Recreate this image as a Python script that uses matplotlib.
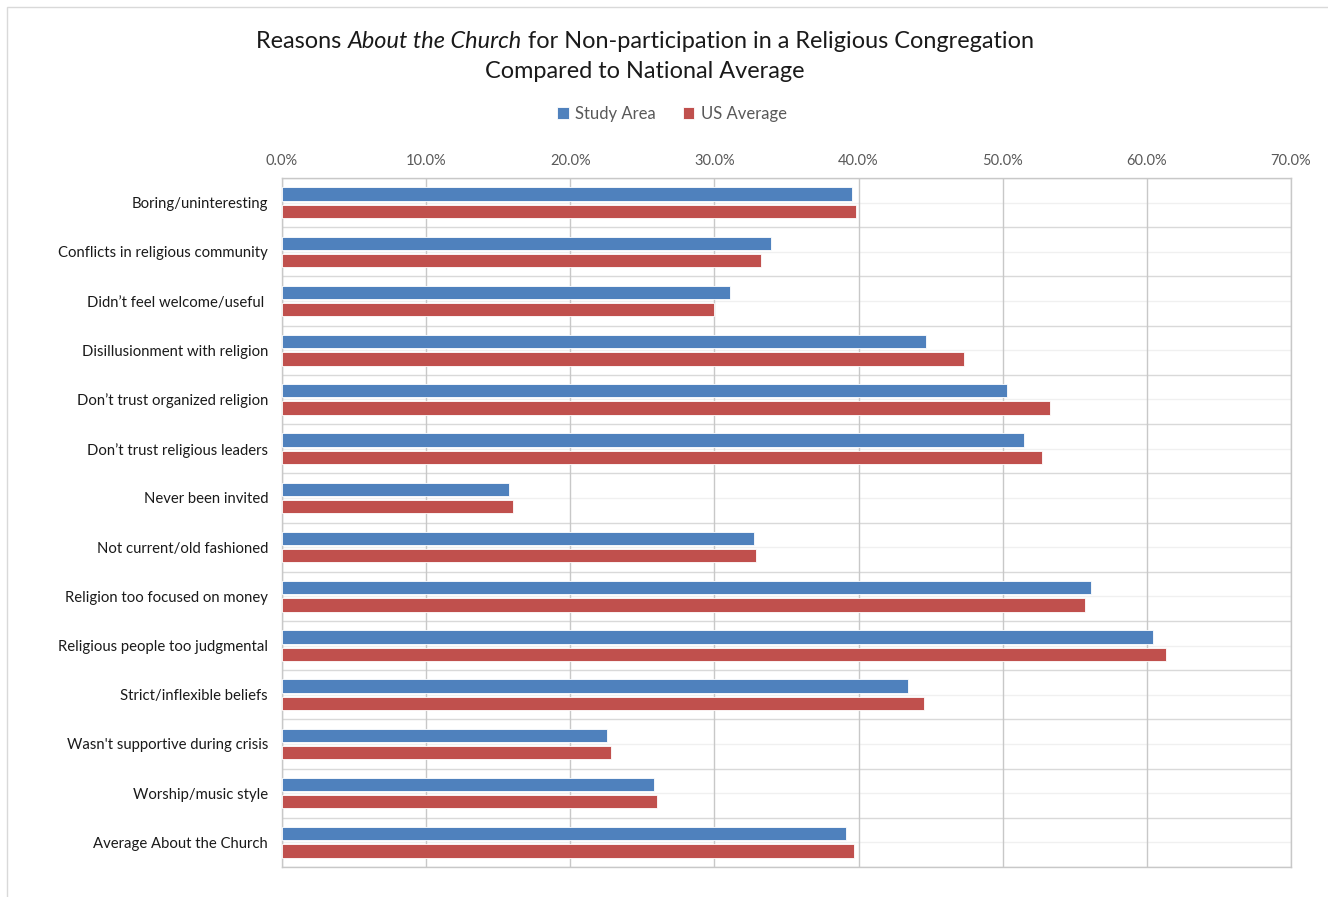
import numpy as np
import matplotlib
matplotlib.use('Agg')
import matplotlib.pyplot as plt
from matplotlib.ticker import PercentFormatter, MultipleLocator
from matplotlib.patches import Rectangle

plt.rcParams['font.family'] = ['Lato', 'DejaVu Sans']

# Data (percent)
categories = [
    'Boring/uninteresting',
    'Conflicts in religious community',
    'Didn\u2019t feel welcome/useful ',
    'Disillusionment with religion',
    'Don\u2019t trust organized religion',
    'Don\u2019t trust religious leaders',
    'Never been invited',
    'Not current/old fashioned',
    'Religion too focused on money',
    'Religious people too judgmental',
    'Strict/inflexible beliefs',
    "Wasn't supportive during crisis",
    'Worship/music style',
    'Average About the Church',
]
study_area = [39.55, 33.9, 31.1, 44.7, 50.3, 51.5, 15.75, 32.75, 56.1, 60.4, 43.4, 22.55, 25.8, 39.1]
us_average = [39.8, 33.2, 30.0, 47.3, 53.3, 52.7, 16.0, 32.9, 55.7, 61.3, 44.55, 22.8, 26.0, 39.7]

blue = '#4f81bd'
red = '#c0504d'

fig = plt.figure(figsize=(13.28, 8.97), dpi=100)
ax = fig.add_axes([282/1328, 1 - 867/897, (1291-282)/1328, (867-178)/897])

y = np.arange(len(categories))
h = 0.27
ax.barh(y - 0.175, study_area, height=h, color=blue, edgecolor='white', linewidth=0.6, zorder=3, label='Study Area')
ax.barh(y + 0.175, us_average, height=h, color=red, edgecolor='white', linewidth=0.6, zorder=3, label='US Average')

ax.set_xlim(0, 70)
ax.set_ylim(len(categories) - 0.5, -0.5)
ax.xaxis.set_major_locator(MultipleLocator(10))
ax.xaxis.set_major_formatter(PercentFormatter(decimals=1))
ax.xaxis.tick_top()
ax.tick_params(axis='x', length=0, pad=7, labelsize=10.5, labelcolor='#595959')

ax.set_yticks(y)
ax.set_yticklabels(categories, fontsize=10.75, color='#1a1a1a')
ax.tick_params(axis='y', length=0, pad=10)

# gridlines
ax.grid(axis='x', color='#c8c8c8', linewidth=1.0, zorder=0)
for b in np.arange(-0.5, len(categories), 1.0):
    ax.axhline(b, color='#d9d9d9', linewidth=1.0, zorder=1)
for c in y:
    ax.axhline(c, color='#f0f0f0', linewidth=1.0, zorder=1)

for s in ax.spines.values():
    s.set_color('#c8c8c8')
    s.set_linewidth(1.0)

# title with italic part
fig.canvas.draw()
renderer = fig.canvas.get_renderer()
parts = [('Reasons ', 'normal'), ('About the Church', 'italic'),
         (' for Non-participation in a Religious Congregation', 'normal')]
texts = []
for s, st in parts:
    t = fig.text(0, 1 - 41/897, s, fontsize=16.9, style=st, color='#1a1a1a', va='center', ha='left')
    texts.append(t)
widths = [t.get_window_extent(renderer).width for t in texts]
x0 = 645 - sum(widths) / 2
for t, w in zip(texts, widths):
    t.set_x(x0 / 1328)
    x0 += w
fig.text(645/1328, 1 - 71/897, 'Compared to National Average', fontsize=16.9, color='#1a1a1a',
         ha='center', va='center')

fig.legend(loc='center', bbox_to_anchor=(672/1328, 1 - 114/897), ncol=2, frameon=False,
           fontsize=12, labelcolor='#595959', handlelength=0.7, handleheight=0.7,
           handletextpad=0.4, columnspacing=1.6)

# outer chart border
fig.patches.append(Rectangle((7/1328, -0.1), 1.2, (1 - 7/897) + 0.1, transform=fig.transFigure,
                             fill=False, edgecolor='#d9d9d9', linewidth=1.0))

fig.savefig('out.png', dpi=100)
